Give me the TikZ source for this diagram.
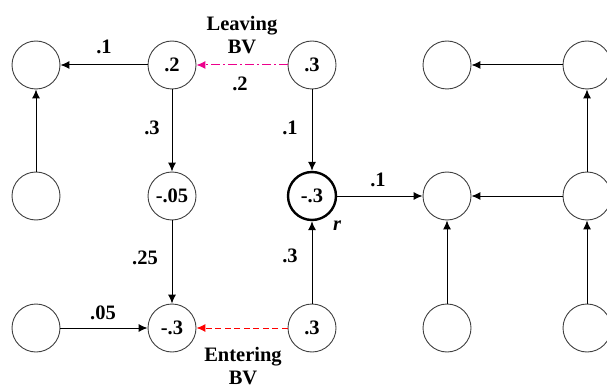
\documentclass[tikz,border=0pt]{standalone}
\usepackage{fontspec}
\setmainfont{Liberation Serif}
\usetikzlibrary{arrows.meta}

\begin{document}
\begin{tikzpicture}[x=1pt,y=-1pt,
  every node/.style={font=\bfseries\fontsize{20.5}{23}\selectfont},
  bv/.style={draw=black!75,circle,minimum size=48pt,inner sep=0pt,line width=0.9pt},
  arc/.style={-{Latex[length=9pt,width=8pt]},line width=1pt},
  wt/.style={inner sep=1pt}]
\useasboundingbox (0,0) rectangle (607,390);
% grid of basis variables
\node[bv] (a11) at (36,65) {};
\node[bv] (a12) at (172,65) {.2};
\node[bv] (a13) at (312,65) {.3};
\node[bv] (a14) at (447,65) {};
\node[bv] (a15) at (587,65) {};
\node[bv] (a21) at (36,196) {};
\node[bv] (a22) at (172,196) {-.05};
\node[bv,draw=black,line width=2.4pt] (a23) at (312,196) {-.3};
\node[bv] (a24) at (447,196) {};
\node[bv] (a25) at (587,196) {};
\node[bv] (a31) at (36,328) {};
\node[bv] (a32) at (172,328) {-.3};
\node[bv] (a33) at (312,328) {.3};
\node[bv] (a34) at (447,328) {};
\node[bv] (a35) at (587,328) {};
% weights
\node[wt] (w1) at (104,47) {.1};
\node[wt,align=center] (lv) at (242,35) {Leaving\\BV};
\node[wt] (w2) at (240,84) {.2};
\node[wt] (w3) at (152,128) {.3};
\node[wt] (w4) at (290,128) {.1};
\node[wt] (w5) at (145,258) {.25};
\node[wt] (w6) at (290,256) {.3};
\node[wt] (w7) at (103,313) {.05};
\node[wt,align=center] (en) at (243,366) {Entering\\BV};
\node[wt] (w8) at (378,180) {.1};
\node[wt,font=\bfseries\itshape\fontsize{20.5}{24}\selectfont] (rr) at (337,226) {r};
% arcs
\draw[arc] (a12) -- (a11);
\draw[arc] (a21) -- (a11);
\draw[arc] (a12) -- (a22);
\draw[arc] (a22) -- (a32);
\draw[arc] (a31) -- (a32);
\draw[arc] (a13) -- (a23);
\draw[arc] (a33) -- (a23);
\draw[arc] (a23) -- (a24);
\draw[arc] (a25) -- (a24);
\draw[arc] (a34) -- (a24);
\draw[arc] (a35) -- (a25);
\draw[arc] (a25) -- (a15);
\draw[arc] (a15) -- (a14);
\draw[arc,magenta,dash pattern=on 9pt off 3pt on 2pt off 3pt] (a13) -- (a12);
\draw[arc,red,dash pattern=on 6pt off 3.5pt] (a33) -- (a32);
\end{tikzpicture}
\end{document}
